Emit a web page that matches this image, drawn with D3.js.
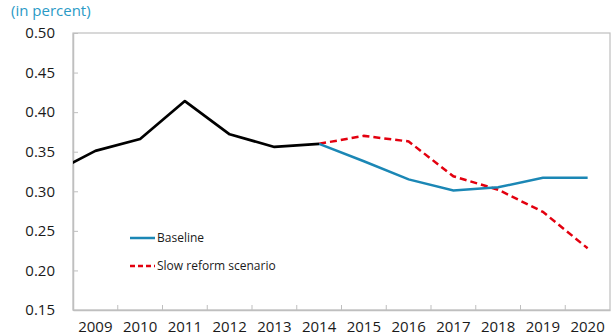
<!DOCTYPE html>
<html>
<head>
<meta charset="utf-8">
<script src="https://cdn.jsdelivr.net/npm/d3@7"></script>
<style>
  body { margin: 0; background: #fff; }
  svg text { font-family: "Open Sans", "Noto Sans", sans-serif; }
</style>
</head>
<body>
<svg width="613" height="336"></svg>
<script>
// years on the axis, plus history / projection values
var years = ["2009", "2010", "2011", "2012", "2013", "2014", "2015", "2016", "2017", "2018", "2019", "2020"];
var histYears = ["2008", "2009", "2010", "2011", "2012", "2013", "2014"];
var histValues = [0.322, 0.351, 0.366, 0.414, 0.372, 0.356, 0.360];
var projYears = ["2014", "2015", "2016", "2017", "2018", "2019", "2020"];
var baselineValues = [0.360, 0.338, 0.315, 0.301, 0.305, 0.317, 0.317];
var slowValues = [0.360, 0.370, 0.363, 0.319, 0.302, 0.274, 0.228];
var yTicks = [0.15, 0.20, 0.25, 0.30, 0.35, 0.40, 0.45, 0.50];

var svg = d3.select('svg'),
    width = +svg.attr("width"),
    height = +svg.attr("height");

var margin = {top: 33, right: 3, bottom: 26, left: 73};
var innerWidth = width - margin.left - margin.right;
var innerHeight = height - margin.top - margin.bottom;

var xScale = d3.scaleBand()
    .domain(years)
    .range([0, innerWidth]);

// centre of a year's band; 2008 sits one band left of the axis and gets clipped
var xPos = yr => {
    var i = years.indexOf(yr);
    if (i < 0) i = +yr - 2009;
    return xScale.step() * i + xScale.bandwidth() / 2;
};

var yScale = d3.scaleLinear()
    .domain([0.15, 0.50])
    .range([innerHeight, 0]);

var gridColor = "#bfbfbf";

svg.append("defs").append("clipPath")
    .attr("id", "clip")
    .append("rect")
    .attr("width", innerWidth)
    .attr("height", innerHeight);

var g = svg.append('g')
    .attr('transform', `translate(${margin.left},${margin.top})`);

// box round the plot
g.append('rect')
    .attr('width', innerWidth)
    .attr('height', innerHeight)
    .attr('fill', 'none')
    .attr('stroke', gridColor)
    .attr('stroke-width', 1.2);

//Y axis, ticks pointing inward
var yAxis = d3.axisLeft(yScale)
    .tickValues(yTicks)
    .tickFormat(d3.format(".2f"))
    .tickSizeInner(-5)
    .tickSizeOuter(0)
    .tickPadding(18);

var yg = g.append('g').call(yAxis);
yg.select('.domain').attr('stroke', gridColor).attr('stroke-width', 1.5);
yg.selectAll('.tick line').attr('stroke', gridColor);
yg.selectAll('.tick text')
    .attr('font-size', 15)
    .attr('fill', '#1a1a1a');

//X axis: ticks at band boundaries, labels centred in bands
var xAxis = d3.axisBottom(xScale)
    .tickSize(0)
    .tickPadding(11);

var xg = g.append('g')
    .attr('transform', `translate(0,${innerHeight})`)
    .call(xAxis);
xg.select('.domain').attr('stroke', gridColor).attr('stroke-width', 1.5);
xg.selectAll('.tick text')
    .attr('font-size', 15)
    .attr('fill', '#1a1a1a');

g.append('g').selectAll('line')
    .data(years.slice(1))
    .enter().append('line')
    .attr('x1', d => xScale(d))
    .attr('x2', d => xScale(d))
    .attr('y1', innerHeight)
    .attr('y2', innerHeight - 5)
    .attr('stroke', gridColor);

// lines
var lines = g.append('g').attr('clip-path', 'url(#clip)');

var lineGenerator = d3.line()
    .x(d => xPos(d[0]))
    .y(d => yScale(d[1]));

lines.append('path')
    .attr('d', lineGenerator(d3.zip(projYears, slowValues)))
    .attr('fill', 'none')
    .attr('stroke', '#e3000f')
    .attr('stroke-width', 2.5)
    .attr('stroke-dasharray', '7,4');

lines.append('path')
    .attr('d', lineGenerator(d3.zip(projYears, baselineValues)))
    .attr('fill', 'none')
    .attr('stroke', '#1b87b5')
    .attr('stroke-width', 2.5);

lines.append('path')
    .attr('d', lineGenerator(d3.zip(histYears, histValues)))
    .attr('fill', 'none')
    .attr('stroke', '#000')
    .attr('stroke-width', 2.7)
    .attr('stroke-linejoin', 'round');

// legend
var legend = [
    {name: "Baseline", color: "#1b87b5", dash: null},
    {name: "Slow reform scenario", color: "#e3000f", dash: "5,3"}
];

var lg = svg.append('g').attr('transform', 'translate(130,238)');
legend.forEach((item, i) => {
    var row = lg.append('g').attr('transform', `translate(0,${i * 28})`);
    row.append('line')
        .attr('x1', 0).attr('x2', 25)
        .attr('stroke', item.color)
        .attr('stroke-width', 2.5)
        .attr('stroke-dasharray', item.dash);
    row.append('text')
        .attr('x', 27)
        .attr('y', 4)
        .attr('font-size', 12)
        .attr('fill', '#1a1a1a')
        .text(item.name);
});

// unit note
svg.append('text')
    .attr('x', 11)
    .attr('y', 16)
    .attr('font-size', 15)
    .attr('fill', '#2a9ac6')
    .text('(in percent)');
</script>
</body>
</html>
